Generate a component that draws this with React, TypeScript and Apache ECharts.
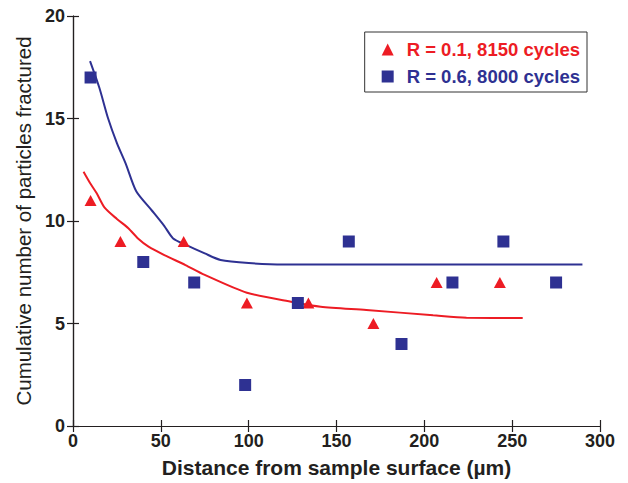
import React, { useEffect, useRef } from "react";
import * as echarts from "echarts";

const redName = "R = 0.1, 8150 cycles";
const blueName = "R = 0.6, 8000 cycles";

const redX = [10, 27, 63, 99, 134, 171, 207, 243];
const redY = [11, 9, 9, 6, 6, 5, 7, 7];
const blueX = [10, 40, 69, 98, 128, 157, 187, 216, 245, 275];
const blueY = [17, 8, 7, 2, 6, 9, 4, 7, 9, 7];

const redFitX = [6, 9.7, 13.5, 18, 25, 31.5, 37, 43, 52, 64, 75, 99, 125, 141, 167, 205, 224, 256];
const redFitY = [12.4, 11.85, 11.35, 10.65, 10.1, 9.65, 9.15, 8.75, 8.34, 7.85, 7.37, 6.5, 6.05, 5.82, 5.66, 5.4, 5.28, 5.27];
const blueFitX = [9.7, 15, 20, 25, 30, 36, 45, 52, 57, 64, 75, 84, 100, 120, 290];
const blueFitY = [17.8, 16.5, 15.0, 13.8, 12.8, 11.45, 10.5, 9.75, 9.15, 8.85, 8.42, 8.1, 7.95, 7.88, 7.88];

const RED = "#ed1c24";
const BLUE = "#2e3192";
const INK = "#231f20";
const FONT = "Liberation Sans, Arial, sans-serif";

const zip = (xs: number[], ys: number[]) => xs.map((x, i) => [x, ys[i]]);

export default function App() {
  const ref = useRef<HTMLDivElement>(null);
  useEffect(() => {
    if (!ref.current) return;
    const chart = echarts.init(ref.current, undefined, { renderer: "svg" });
    const tickCommon = {
      axisLine: { show: true, lineStyle: { color: INK, width: 1.2 } },
      axisTick: { show: true, inside: true, length: 6, lineStyle: { color: INK, width: 1.2 } },
      splitLine: { show: false },
    };
    chart.setOption({
      animation: false,
      backgroundColor: "#fff",
      textStyle: { fontFamily: FONT },
      grid: { left: 73, right: 28, top: 16, bottom: 57 },
      legend: {
        data: [
          { name: redName, icon: "triangle", textStyle: { color: RED } },
          { name: blueName, icon: "rect", textStyle: { color: BLUE } },
        ],
        orient: "vertical",
        right: 41,
        top: 32,
        padding: [8, 7, 6, 17],
        itemGap: 8,
        itemWidth: 12,
        itemHeight: 12,
        borderColor: "#333",
        borderWidth: 1,
        textStyle: { fontSize: 18.5, lineHeight: 18, fontWeight: "bold", fontFamily: FONT, padding: [0, 0, 0, 8] },
      },
      xAxis: [
        {
          type: "value",
          min: 0,
          max: 300,
          interval: 50,
          ...tickCommon,
          axisLabel: { color: INK, fontSize: 18, fontWeight: "bold", margin: 6, fontFamily: FONT },
          name: "Distance from sample surface (\u00b5m)",
          nameLocation: "middle",
          nameGap: 31,
          nameTextStyle: { color: INK, fontSize: 21, fontWeight: "bold", fontFamily: FONT },
        },
        {
          type: "value",
          position: "top",
          min: 0,
          max: 300,
          interval: 50,
          ...tickCommon,
          axisLabel: { show: false },
        },
      ],
      yAxis: [
        {
          type: "value",
          min: 0,
          max: 20,
          interval: 5,
          ...tickCommon,
          axisLabel: { color: INK, fontSize: 18, fontWeight: "bold", margin: 8, fontFamily: FONT },
          name: "Cumulative number of particles fractured",
          nameLocation: "middle",
          nameGap: 38,
          nameTextStyle: { color: INK, fontSize: 20.5, fontFamily: FONT },
        },
        {
          type: "value",
          position: "right",
          min: 0,
          max: 20,
          interval: 5,
          ...tickCommon,
          axisLabel: { show: false },
        },
      ],
      series: [
        {
          type: "line",
          data: zip(redFitX, redFitY),
          showSymbol: false,
          symbol: "none",
          smooth: 0.25,
          lineStyle: { color: RED, width: 2 },
          silent: true,
          z: 2,
        },
        {
          type: "line",
          data: zip(blueFitX, blueFitY),
          showSymbol: false,
          symbol: "none",
          smooth: 0.25,
          lineStyle: { color: BLUE, width: 2 },
          silent: true,
          z: 2,
        },
        {
          name: redName,
          type: "scatter",
          data: zip(redX, redY),
          symbol: "triangle",
          symbolSize: [12, 11],
          itemStyle: { color: RED, opacity: 1 },
          z: 3,
        },
        {
          name: blueName,
          type: "scatter",
          data: zip(blueX, blueY),
          symbol: "rect",
          symbolSize: 12,
          itemStyle: { color: BLUE, opacity: 1 },
          z: 3,
        },
      ],
    });
    return () => chart.dispose();
  }, []);
  return <div ref={ref} style={{ width: 628, height: 483, position: "absolute", left: 0, top: 0 }} />;
}
